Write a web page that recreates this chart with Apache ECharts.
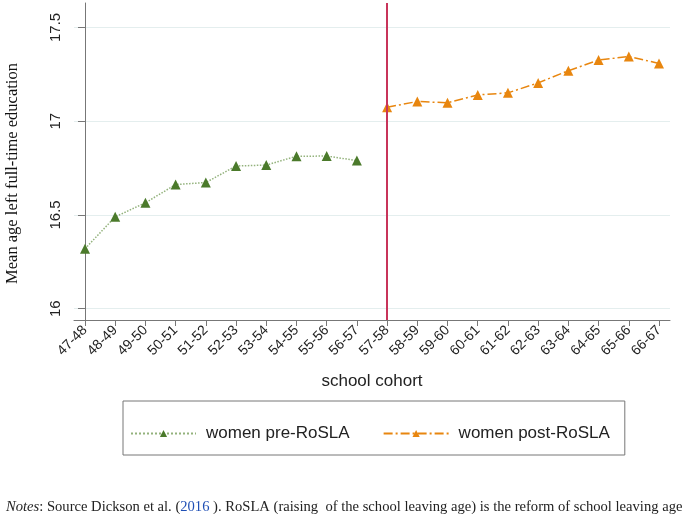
<!DOCTYPE html>
<html>
<head>
<meta charset="utf-8">
<script src="https://cdn.jsdelivr.net/npm/echarts@6/dist/echarts.min.js"></script>
<style>
  html, body { margin: 0; padding: 0; background: #fff; }
  #chart { width: 685px; height: 514px; }
</style>
</head>
<body>
<div id="chart"></div>
<script>
// 数据
const cohorts = ['47-48', '48-49', '49-50', '50-51', '51-52', '52-53', '53-54', '54-55', '55-56', '56-57',
  '57-58', '58-59', '59-60', '60-61', '61-62', '62-63', '63-64', '64-65', '65-66', '66-67']
const preRosla = [16.32, 16.49, 16.565, 16.662, 16.673, 16.761, 16.766, 16.813, 16.814, 16.79]
const postRosla = [17.074, 17.105, 17.098, 17.14, 17.151, 17.204, 17.269, 17.326, 17.345, 17.308]
const yTicks = [16, 16.5, 17, 17.5]
const reformCohort = '57-58'

const green = '#4b7a2b'
const orange = '#e8860f'
const sans = 'Liberation Sans, Arial, sans-serif'
const serif = 'Liberation Serif, Times New Roman, serif'

const xTicks = cohorts.map((c, i) => i)
const preData = preRosla.map((v, i) => [i, v])
const postData = postRosla.map((v, i) => [i + preRosla.length, v])

const chartInstance = echarts.init(document.getElementById('chart'))

const option = {
  animation: false,
  title: {
    left: 1,
    top: 495,
    text: '{i|Notes}: Source Dickson et al. ({l|2016} ). RoSLA (raising  of the school leaving age) is the reform of school leaving age',
    textStyle: {
      fontFamily: serif,
      fontSize: 14.6,
      fontWeight: 'normal',
      color: '#222',
      rich: {
        i: { fontFamily: serif, fontSize: 14.6, fontStyle: 'italic', color: '#222' },
        l: { fontFamily: serif, fontSize: 14.6, color: '#1f4fb5' }
      }
    }
  },
  legend: {
    data: ['women pre-RoSLA', 'women post-RoSLA'],
    left: 123,
    top: 401,
    itemWidth: 65,
    itemHeight: 9,
    itemGap: 33,
    padding: [24, 15, 13, 7],
    borderColor: '#777',
    borderWidth: 1,
    textStyle: {
      fontFamily: sans,
      fontSize: 17,
      color: '#222',
      padding: [0, 0, 0, 5]
    }
  },
  grid: {
    left: 74,
    right: 15,
    top: 3,
    bottom: 194,
    outerBoundsMode: 'none'
  },
  xAxis: {
    type: 'value',
    min: -0.364,
    max: 19.364,
    name: 'school cohort',
    nameLocation: 'middle',
    nameGap: 53,
    nameTextStyle: { fontFamily: sans, fontSize: 17, color: '#222' },
    axisLine: { show: true, lineStyle: { color: '#777', width: 1 } },
    axisTick: { show: true, length: 6, customValues: xTicks, lineStyle: { color: '#777' } },
    axisLabel: {
      customValues: xTicks,
      rotate: 45,
      margin: 8,
      fontFamily: sans,
      fontSize: 14,
      color: '#222',
      formatter: (v) => cohorts[Math.round(v)]
    },
    splitLine: { show: false }
  },
  yAxis: {
    type: 'value',
    min: 15.94,
    max: 17.63,
    name: 'Mean age left full-time education',
    nameLocation: 'middle',
    nameGap: 53,
    nameTextStyle: { fontFamily: serif, fontSize: 16.5, color: '#111', padding: [0, 24, 0, 0] },
    axisLine: { show: true, lineStyle: { color: '#777', width: 1 } },
    axisTick: { show: true, length: 7, customValues: yTicks, lineStyle: { color: '#777' } },
    axisLabel: {
      customValues: yTicks,
      rotate: 90,
      margin: 11,
      fontFamily: sans,
      fontSize: 15,
      color: '#222'
    },
    splitLine: { show: true, lineStyle: { color: '#e4eeee', width: 1 } }
  },
  series: [
    {
      name: 'women pre-RoSLA',
      type: 'line',
      data: preData,
      symbol: 'triangle',
      symbolSize: 10,
      itemStyle: { color: green },
      lineStyle: { color: '#93b27c', width: 1.5, type: 'dotted' }
    },
    {
      name: 'women post-RoSLA',
      type: 'line',
      data: postData,
      symbol: 'triangle',
      symbolSize: 10,
      itemStyle: { color: orange },
      lineStyle: { color: orange, width: 1.5, type: [9, 3, 2, 3] },
      markLine: {
        silent: true,
        symbol: 'none',
        label: { show: false },
        lineStyle: { color: '#c8345a', width: 2, type: 'solid' },
        data: [{ xAxis: cohorts.indexOf(reformCohort) }]
      }
    }
  ]
}

chartInstance.setOption(option)
</script>
</body>
</html>
